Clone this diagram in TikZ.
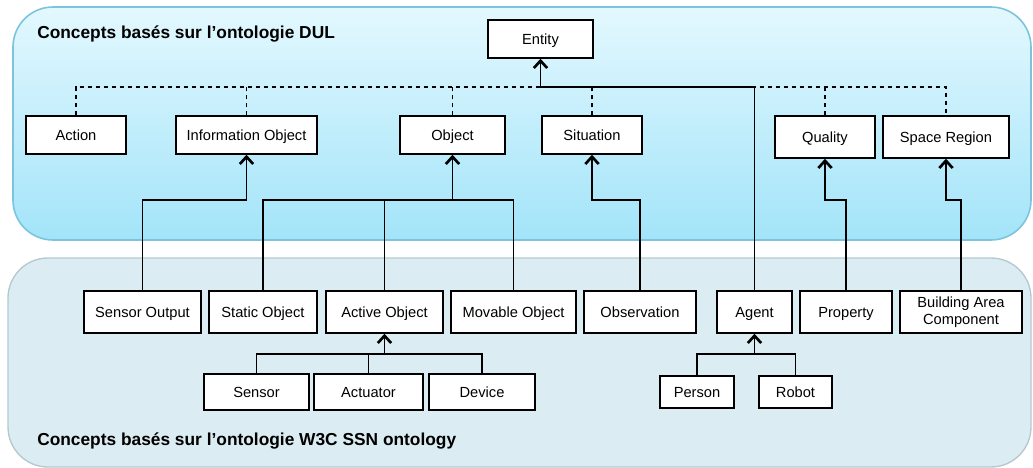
\documentclass[tikz,border=0pt]{standalone}
\usepackage{fontspec}
\setmainfont{Liberation Sans}
\usetikzlibrary{arrows.meta}
\definecolor{topA}{HTML}{E3F8FE}
\definecolor{topB}{HTML}{A3E4F9}
\definecolor{topLine}{HTML}{7CC4DC}
\definecolor{botFill}{HTML}{DBEDF3}
\definecolor{botLine}{HTML}{B5C8D0}
\tikzset{
  box/.style={draw=black, line width=1.1pt, fill=white, inner sep=0pt, font=\fontsize{11}{12.5}\selectfont, align=center, text height=7.9pt, text depth=0pt},
  conn/.style={draw=black, line width=0.9pt},
  arr/.style={conn, -{Straight Barb[length=5.5pt,width=10pt,line width=2pt]}},
  dashline/.style={draw=black, line width=0.8pt, dash pattern=on 3.5pt off 2.5pt},
  ttl/.style={anchor=west, inner sep=0pt, font=\fontsize{13}{15}\selectfont\bfseries}
}
\newcommand\bx[7][]{\node[box, minimum width={(#5-#3)*0.75pt}, minimum height={(#6-#4)*0.75pt}, #1] (#2) at ({(#3+#5)/2},{(#4+#6)/2}) {#7};}
\begin{document}
\begin{tikzpicture}[x=0.75pt,y=-0.75pt]
\useasboundingbox (0,0) rectangle (1033,468);
% panels
\path[top color=topA, bottom color=topB, draw=topLine, line width=1.2pt, rounded corners=30pt] (13,7) rectangle (1031,240);
\path[fill=botFill, draw=botLine, line width=1pt, rounded corners=30pt] (8,258) rectangle (1031,467);
\node[ttl] (t1) at (37,34) {Concepts basés sur l’ontologie DUL};
\node[ttl] (t2) at (37,441) {Concepts basés sur l’ontologie W3C SSN ontology};
% top boxes
\bx{en}{488}{20}{593}{58}{Entity}
\bx{ac}{26}{116}{126}{154}{Action}
\bx{io}{176}{116}{317}{154}{Information Object}
\bx{ob}{400}{116}{505}{154}{Object}
\bx{si}{542}{116}{642}{154}{Situation}
\bx{qu}{775}{116}{875}{158}{Quality}
\bx{sr}{883}{116}{1009}{158}{Space Region}
% middle boxes
\bx{so}{84}{291}{201}{333}{Sensor Output}
\bx{st}{209}{291}{317}{333}{Static Object}
\bx{ao}{326}{291}{443}{333}{Active Object}
\bx{mo}{451}{291}{576}{333}{Movable Object}
\bx{obs}{584}{291}{696}{333}{Observation}
\bx{ag}{717}{291}{792}{333}{Agent}
\bx{pr}{800}{291}{892}{333}{Property}
\bx[text height=, text depth=]{ba}{900}{291}{1022}{333}{Building Area\\Component}
% bottom boxes
\bx{sen}{204}{374}{309}{410}{Sensor}
\bx{act}{314}{374}{423}{410}{Actuator}
\bx{dev}{429}{374}{535}{410}{Device}
\bx{pe}{660}{376}{734}{408}{Person}
\bx{ro}{759}{376}{832}{408}{Robot}
% helper levels
\coordinate (dy) at (0,87);
\coordinate (jy) at (0,200);
\coordinate (ly) at (0,354);
% dashed hierarchy to Entity
\draw[dashline] (ac.north) -- (ac.north |- dy) -- (sr.north |- dy) -- (sr.north);
\foreach \n in {io,ob,si,qu} \draw[dashline] (\n.north) -- (\n.north |- dy);
\draw[arr] (ag.north) |- (en.south |- dy) -- (en.south);
% middle to top
\draw[arr] (so.north) |- (io.south |- jy) -- (io.south);
\draw[conn] (st.north) |- (mo.north |- jy) -- (mo.north);
\draw[arr] (ao.north) |- (ob.south |- jy) -- (ob.south);
\draw[arr] (obs.north) |- (si.south |- jy) -- (si.south);
\draw[arr] (pr.north) |- (qu.south |- jy) -- (qu.south);
\draw[arr] (ba.north) |- (sr.south |- jy) -- (sr.south);
% bottom to middle
\draw[conn] (sen.north) |- (dev.north |- ly) -- (dev.north);
\draw[conn] (act.north) -- (act.north |- ly);
\draw[arr] (ao.south |- ly) -- (ao.south);
\draw[conn] (pe.north) |- (ro.north |- ly) -- (ro.north);
\draw[arr] (ag.south |- ly) -- (ag.south);
\end{tikzpicture}
\end{document}
